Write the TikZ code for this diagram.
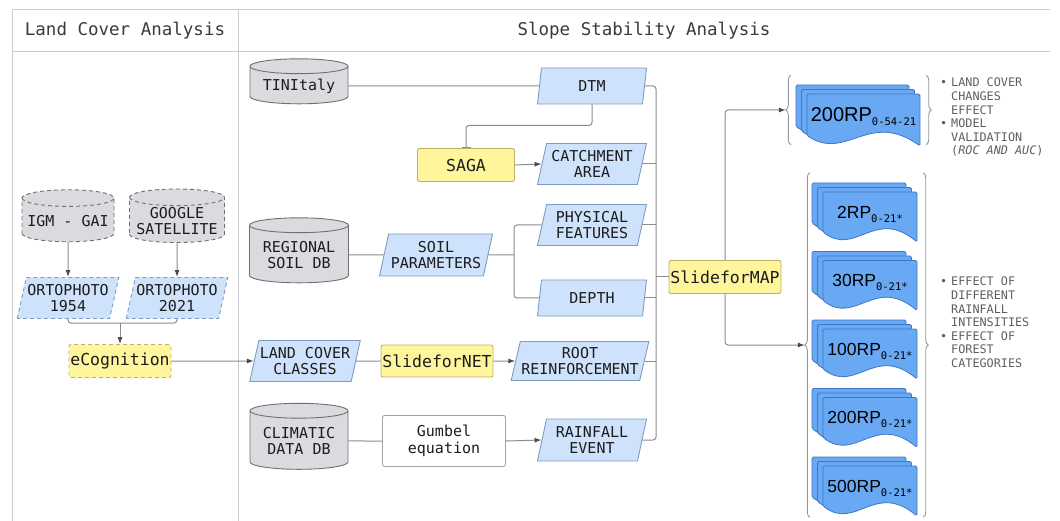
\documentclass[tikz,border=0pt]{standalone}
\usepackage{fontspec}
\setmainfont{DejaVu Sans Mono}
\newfontfamily\monof{DejaVu Sans Mono}
\newfontfamily\docfont{Liberation Sans}
\usetikzlibrary{shapes.geometric, arrows.meta, decorations.pathreplacing, calc}

\definecolor{framec}{HTML}{C9CDD2}
\definecolor{linec}{HTML}{8C8C8C}
\definecolor{tipc}{HTML}{4A4A4A}
\definecolor{parafill}{HTML}{CFE2FC}
\definecolor{paraline}{HTML}{7F9BC2}
\definecolor{cylfill}{HTML}{D9DBDF}
\definecolor{cylline}{HTML}{707070}
\definecolor{yelfill}{HTML}{FFF59C}
\definecolor{yelline}{HTML}{BDB16A}
\definecolor{docfill}{HTML}{69A8F3}
\definecolor{docline}{HTML}{3F78C4}
\definecolor{txt}{HTML}{1C1C1C}
\definecolor{hdrc}{HTML}{3A3A3A}
\definecolor{notec}{HTML}{5E5E5E}

\tikzset{
  base/.style={font=\fontsize{15}{16.5}\selectfont, text=txt, align=center, inner sep=1pt, line width=0.9pt},
  para/.style={base, trapezium, trapezium left angle=73, trapezium right angle=107,
    trapezium stretches body, draw=paraline, fill=parafill},
  db/.style={base, cylinder, shape border rotate=90, aspect=0.2, draw=cylline,
    cylinder uses custom fill, cylinder body fill=cylfill, cylinder end fill=cylfill},
  tool/.style={base, font=\fontsize{16.5}{18}\selectfont, rectangle, rounded corners=2pt, draw=yelline, fill=yelfill},
  plainbox/.style={base, rectangle, rounded corners=2pt, draw=linec!80, fill=white},
  dashedge/.style={dash pattern=on 4pt off 3pt},
  conn/.style={draw=linec, line width=1pt},
  arr/.style={conn, -{Latex[length=7pt,width=5pt,color=tipc]}},
  tee/.style={conn, -{Bar[width=9pt]}},
  doc/.style={draw=docline, fill=docfill, line width=0.8pt, rounded corners=1.5pt},
  doclabel/.style={font=\docfont\fontsize{17.5}{18}\selectfont, text=black, inner sep=0pt},
  note/.style={font=\fontsize{11.8}{13.6}\selectfont, text=notec, align=left, inner sep=0pt, anchor=north west},
  grp/.style={draw=none, inner sep=0pt},
  curly/.style={draw=linec!90, line width=0.9pt, decorate, decoration={brace, amplitude=5pt}},
  frame/.style={draw=framec, line width=1pt},
  header/.style={font=\fontsize{17.5}{19}\selectfont, text=hdrc, inner sep=0pt},
}

% one page of a stacked document symbol, top-left corner (x0,y0), size w x h
\newcommand{\docsheet}[4]{%
  \filldraw[doc] ({#1},{#2}) -- ({#1+#3},{#2}) -- ({#1+#3},{#2+#4})
    .. controls ({#1+0.55*#3},{#2+0.3*#4}) and ({#1+0.35*#3},{#2+1.3*#4})
    .. ({#1},{#2+0.8*#4}) -- cycle;}
% three stacked pages with a label on the front one: name, cx, cy, w, h, label
\newcommand{\docstack}[6]{%
  \docsheet{#2-#4/2-11}{#3-#5/2-9}{#4}{#5}
  \docsheet{#2-#4/2-5.5}{#3-#5/2-4.5}{#4}{#5}
  \docsheet{#2-#4/2}{#3-#5/2}{#4}{#5}
  \node[doclabel] (#1) at ({#2},{#3-3}) {#6};}
\newcommand{\rpsub}[1]{\raisebox{-4pt}{\monof\fontsize{10.5}{11}\selectfont #1}}
\newcommand{\bul}{\makebox[11pt][l]{•}}
\newcommand{\nobul}{\hspace*{11pt}}

\begin{document}
\begin{tikzpicture}[x=1pt, y=-1pt]
\useasboundingbox (0,0) rectangle (1060,521);

% table frame
\draw[frame] (12,521) -- (12,10) -- (1050,10);
\draw[frame] (12,52) -- (1050,52);
\draw[frame] (238,10) -- (238,521);
\node[header] (hdrL) at (125,31) {Land Cover Analysis};
\node[header] (hdrR) at (644,31) {Slope Stability Analysis};

% ---- land cover analysis
\node[db, dashedge, minimum width=92pt, minimum height=52pt] (igm) at (68,221) {IGM - GAI};
\node[db, dashedge, minimum width=95pt, minimum height=52pt] (ggl) at (177,221) {GOOGLE\\SATELLITE};
\node[para, dashedge, minimum width=97pt, minimum height=41pt] (o54) at (68,298) {ORTOPHOTO\\1954};
\node[para, dashedge, minimum width=101pt, minimum height=41pt] (o21) at (177,298) {ORTOPHOTO\\2021};
\node[tool, dashedge, minimum width=102pt, minimum height=33pt] (ecog) at (120,361) {eCognition};
\coordinate (merge) at (120,323);

\draw[arr] (igm.south) -- (o54.north);
\draw[arr] (ggl.south) -- (o21.north);
\draw[conn, rounded corners=3pt] (o54.south) |- (merge);
\draw[conn, rounded corners=3pt] (o21.south) |- (merge);
\draw[arr] (merge) -- (ecog.north);

% ---- slope stability analysis: inputs
\node[db, minimum width=98pt, minimum height=45pt] (tin) at (299,86) {TINItaly};
\node[para, minimum width=109pt, minimum height=36pt] (dtm) at (592,86) {DTM};
\node[tool, minimum width=97pt, minimum height=33pt] (saga) at (466,165) {SAGA};
\node[para, minimum width=109pt, minimum height=41pt] (catch) at (592,164) {CATCHMENT\\AREA};

\node[db, minimum width=99pt, minimum height=65pt] (rsoil) at (299,255) {REGIONAL\\SOIL DB};
\node[para, minimum width=113pt, minimum height=42pt] (soilp) at (436,255) {SOIL\\PARAMETERS};
\node[para, minimum width=109pt, minimum height=41pt] (phys) at (592,225) {PHYSICAL\\FEATURES};
\node[para, minimum width=109pt, minimum height=36pt] (depth) at (592,298) {DEPTH};
\coordinate (split) at (514,255);

\node[para, minimum width=110pt, minimum height=41pt] (lcc) at (305,361) {LAND COVER\\CLASSES};
\node[tool, minimum width=112pt, minimum height=32pt] (snet) at (437,361) {SlideforNET};
\node[para, minimum width=135pt, minimum height=39pt] (root) at (580,361) {ROOT\\REINFORCEMENT};

\node[db, minimum width=98pt, minimum height=66pt] (clim) at (299,441) {CLIMATIC\\DATA DB};
\node[plainbox, minimum width=123pt, minimum height=51pt] (gumbel) at (444,441) {Gumbel\\equation};
\node[para, minimum width=109pt, minimum height=42pt] (rain) at (592,440) {RAINFALL\\EVENT};

\node[tool, minimum width=112pt, minimum height=33pt] (sfm) at (725,277) {SlideforMAP};
\coordinate (bus) at (656,277);

\draw[arr] (ecog.east) -- (lcc.west);
\draw[conn] (tin.east) -- (dtm.west);
\draw[tee, rounded corners=3pt] (dtm.south) -- ++(0,21) -| (saga.north);
\draw[arr] (saga.east) -- (catch.west);
\draw[conn] (rsoil.east) -- (soilp.west);
\draw[conn] (soilp.east) -- (split);
\draw[conn, rounded corners=3pt] (split) |- (phys.west);
\draw[conn, rounded corners=3pt] (split) |- (depth.west);
\draw[conn] (lcc.east) -- (snet.west);
\draw[arr] (snet.east) -- (root.west);
\draw[conn] (clim.east) -- (gumbel.west);
\draw[arr] (gumbel.east) -- (rain.west);

% collector bus into SlideforMAP
\draw[conn, rounded corners=3pt] (dtm.east) -| (bus) |- (rain.east);
\draw[conn] (catch.east) -- (catch.east -| bus);
\draw[conn] (phys.east) -- (phys.east -| bus);
\draw[conn] (depth.east) -- (depth.east -| bus);
\draw[conn] (root.east) -- (root.east -| bus);
\draw[conn] (bus) -- (sfm.west);

% ---- outputs
\node[grp, minimum width=145pt, minimum height=69pt] (out1) at (858.5,110) {};
\node[grp, minimum width=123pt, minimum height=344pt] (out2) at (866.5,345) {};

\draw[arr, rounded corners=3pt] (sfm.north) |- (out1.west);
\draw[arr, rounded corners=3pt] (sfm.south) |- (out2.west);

\draw[curly] ($(out1.south west)+(5,0)$) -- ($(out1.north west)+(5,0)$);
\draw[curly] ($(out1.north east)+(-5,0)$) -- ($(out1.south east)+(-5,0)$);
\draw[curly] ($(out2.south west)+(5,0)$) -- ($(out2.north west)+(5,0)$);
\draw[curly] ($(out2.north east)+(-5,0)$) -- ($(out2.south east)+(-5,0)$);

\docstack{rpall}{863.5}{120}{113}{52}{\fontsize{20}{20}\selectfont 200RP\rpsub{0-54-21}}
\docstack{rp2}{870}{217}{94}{50}{2RP\rpsub{0-21*}}
\docstack{rp30}{870}{285.5}{94}{50}{30RP\rpsub{0-21*}}
\docstack{rp100}{870}{354}{94}{50}{100RP\rpsub{0-21*}}
\docstack{rp200}{870}{422.5}{94}{50}{200RP\rpsub{0-21*}}
\docstack{rp500}{870}{491}{94}{50}{500RP\rpsub{0-21*}}

\node[note] (notes1) at (940,78) {\bul LAND COVER\\\nobul CHANGES\\\nobul EFFECT\\\bul MODEL\\\nobul VALIDATION\\\nobul (\textit{ROC AND AUC})};
\node[note] (notes2) at (940,277) {\bul EFFECT OF\\\nobul DIFFERENT\\\nobul RAINFALL\\\nobul INTENSITIES\\\bul EFFECT OF\\\nobul FOREST\\\nobul CATEGORIES};
\end{tikzpicture}
\end{document}
